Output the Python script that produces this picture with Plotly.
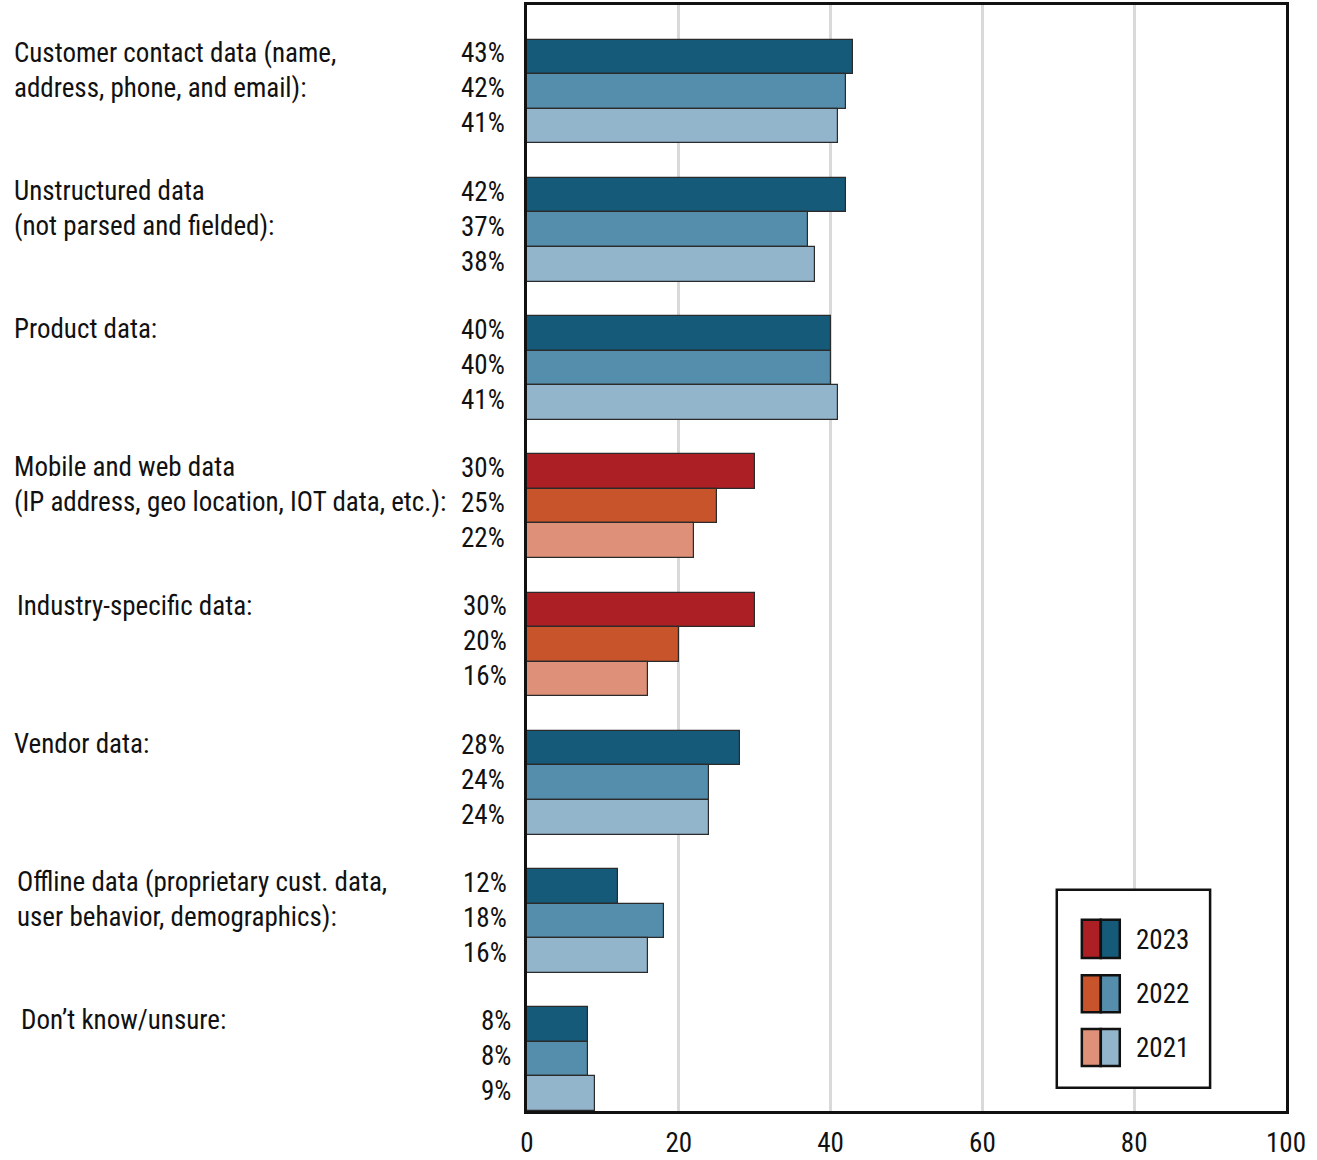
import plotly.graph_objects as go

# Survey responses (%) per data category, three survey years
categories = [
    "Customer contact data (name,<br>address, phone, and email):",
    "Unstructured data<br>(not parsed and fielded):",
    "Product data:",
    "Mobile and web data<br>(IP address, geo location, IOT data, etc.):",
    "Industry-specific data:",
    "Vendor data:",
    "Offline data (proprietary cust. data,<br>user behavior, demographics):",
    "Don\u2019t know/unsure:",
]
years = ["2023", "2022", "2021"]
values_2023 = [43, 42, 40, 30, 30, 28, 12, 8]
values_2022 = [42, 37, 40, 25, 20, 24, 18, 8]
values_2021 = [41, 38, 41, 22, 16, 24, 16, 9]
highlighted = [False, False, False, True, True, False, False, False]

blue_palette = ["#165a7a", "#548eac", "#93b5cc"]
red_palette = ["#ab1f25", "#c8542b", "#df9078"]

FONT = "Liberation Sans Narrow, Roboto Condensed, DejaVu Sans Condensed, Arial Narrow, sans-serif"
FS = 27

series = [values_2023, values_2022, values_2021]
n = len(categories)

fig = go.Figure()
for k, (yr, vals) in enumerate(zip(years, series)):
    ypos = [4 * g + 1.5 + k for g in range(n)]
    colors = [red_palette[k] if highlighted[g] else blue_palette[k] for g in range(n)]
    fig.add_trace(go.Bar(
        x=vals, y=ypos, orientation="h", width=1,
        marker=dict(color=colors, line=dict(color="#2b2b2b", width=1.2)),
        name=yr, showlegend=False, hoverinfo="x",
    ))

# small horizontal nudges for label alignment per row
label_nudge = [0, 0, 0, 0, 3, 0, 3, 7]
pct_nudge = [0, 0, 0, 0, 2, 0, 2, 6]

annotations = []
for g in range(n):
    pct_text = "<br>".join(f"{s[g]}%" for s in series)
    annotations.append(dict(
        text=pct_text, xref="paper", yref="y", x=0, y=4 * g + 2.5,
        xanchor="right", yanchor="middle", align="right",
        xshift=-20 + pct_nudge[g], yshift=3, showarrow=False,
        font=dict(family=FONT, size=FS, color="#111111"),
    ))
    annotations.append(dict(
        text=categories[g], xref="paper", yref="y", x=(12 - 527) / 759, y=4 * g + 1,
        xanchor="left", yanchor="top", align="left",
        xshift=label_nudge[g], yshift=5, showarrow=False,
        font=dict(family=FONT, size=FS, color="#111111"),
    ))

# custom legend: split swatch (red | blue) per year
shapes = [dict(type="rect", xref="x", yref="y", x0=69.8, x1=90.0, y0=25.6, y1=31.33,
               line=dict(color="#111111", width=2.5), fillcolor="white", layer="above")]
sw_rows = [(26.47, 27.57, 27.05), (28.07, 29.14, 28.62), (29.63, 30.70, 30.18)]
for k, (y0, y1, yc) in enumerate(sw_rows):
    shapes.append(dict(type="rect", xref="x", yref="y", x0=73.1, x1=75.6, y0=y0, y1=y1,
                       fillcolor=red_palette[k], line=dict(color="#111111", width=2.5), layer="above"))
    shapes.append(dict(type="rect", xref="x", yref="y", x0=75.6, x1=78.1, y0=y0, y1=y1,
                       fillcolor=blue_palette[k], line=dict(color="#111111", width=2.5), layer="above"))
    annotations.append(dict(
        text=years[k], xref="x", yref="y", x=80.0, y=yc, xanchor="left", yanchor="middle",
        showarrow=False, font=dict(family=FONT, size=FS, color="#111111"),
    ))

fig.update_layout(
    width=1317, height=1160,
    margin=dict(l=527, r=31, t=5, b=49),
    plot_bgcolor="white", paper_bgcolor="white",
    barmode="overlay", bargap=0,
    annotations=annotations, shapes=shapes,
    font=dict(family=FONT, size=FS, color="#111111"),
    xaxis=dict(
        range=[0, 100], tickvals=[0, 20, 40, 60, 80, 100],
        showgrid=True, gridcolor="#d9d9d9", gridwidth=3,
        showline=True, linecolor="#111111", linewidth=2.5, mirror=True,
        ticks="outside", ticklen=0, tickcolor="white", ticklabelstandoff=6,
        tickfont=dict(family=FONT, size=FS, color="#111111"),
        zeroline=False, fixedrange=True, automargin=False,
    ),
    yaxis=dict(
        range=[32, 0], showticklabels=False, showgrid=False, zeroline=False,
        showline=True, linecolor="#111111", linewidth=2.5, mirror=True,
        ticks="", fixedrange=True, automargin=False,
    ),
)

fig.write_html("out.html")
